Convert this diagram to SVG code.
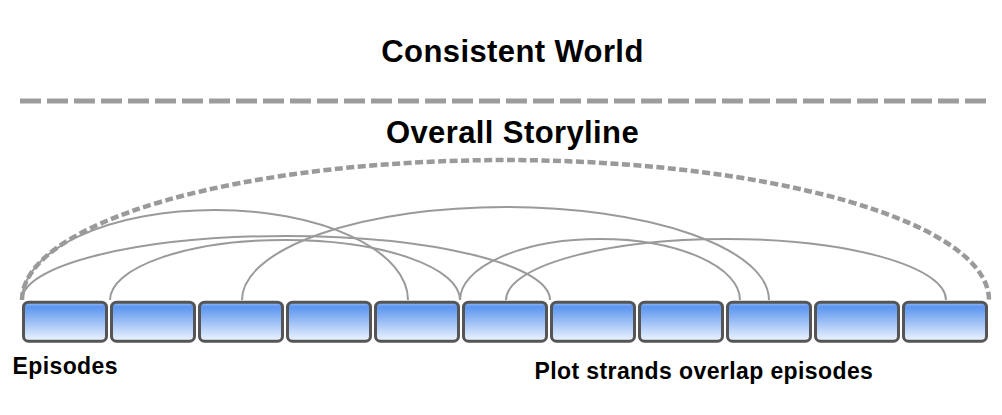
<svg xmlns="http://www.w3.org/2000/svg" width="1002" height="415" viewBox="0 0 1002 415">
  <style>
    .title { font-family: "Liberation Sans", Arial, sans-serif; font-weight: bold; font-size: 31px; letter-spacing: 0.4px; fill: #000; text-anchor: middle; }
    .label { font-family: "Liberation Sans", Arial, sans-serif; font-weight: bold; font-size: 23px; letter-spacing: 0.4px; fill: #000; }
    .ep { fill: url(#epGrad); stroke: #555555; stroke-width: 3; }
    .strand { fill: none; stroke: #9a9a9a; stroke-width: 2; }
    .arc { fill: none; stroke: #9a9a9a; stroke-width: 4.5; stroke-dasharray: 8 3.5; }
    .divider { fill: none; stroke: #9c9c9c; stroke-width: 5; stroke-dasharray: 21 6; }
  </style>
  <defs>
    <linearGradient id="epGrad" x1="0" y1="0" x2="0" y2="1">
      <stop offset="0" stop-color="#9dc0f8"/>
      <stop offset="0.12" stop-color="#5b95ef"/>
      <stop offset="0.5" stop-color="#9cbff5"/>
      <stop offset="1" stop-color="#f0f5ff"/>
    </linearGradient>
  </defs>

  <g id="world">
    <text class="title" x="512.5" y="62">Consistent World</text>
  </g>
  <g id="divider">
    <line class="divider" x1="20" y1="101" x2="986" y2="101"/>
  </g>
  <g id="storyline">
    <text class="title" x="512.5" y="143">Overall Storyline</text>
  </g>

  <g id="connectors">
    <path class="arc" d="M 22 300 A 483.5 140 0 0 1 989 300"/>
    <path class="strand" d="M 22 300 A 193 90 0 0 1 408 300"/>
    <path class="strand" d="M 22 300 A 264 64 0 0 1 550 300"/>
    <path class="strand" d="M 110 300 A 175 60 0 0 1 460 300"/>
    <path class="strand" d="M 242 300 A 263.5 93 0 0 1 769 300"/>
    <path class="strand" d="M 460 300 A 140 61 0 0 1 740 300"/>
    <path class="strand" d="M 506 300 A 220 61 0 0 1 946 300"/>
  </g>

  <g id="episodes">
    <g id="ep1"><rect class="ep" x="23.5" y="302.2" width="83" height="39" rx="5"/></g>
    <g id="ep2"><rect class="ep" x="111.5" y="302.2" width="83" height="39" rx="5"/></g>
    <g id="ep3"><rect class="ep" x="199.5" y="302.2" width="83" height="39" rx="5"/></g>
    <g id="ep4"><rect class="ep" x="287.5" y="302.2" width="83" height="39" rx="5"/></g>
    <g id="ep5"><rect class="ep" x="375.5" y="302.2" width="83" height="39" rx="5"/></g>
    <g id="ep6"><rect class="ep" x="463.5" y="302.2" width="83" height="39" rx="5"/></g>
    <g id="ep7"><rect class="ep" x="551.5" y="302.2" width="83" height="39" rx="5"/></g>
    <g id="ep8"><rect class="ep" x="639.5" y="302.2" width="83" height="39" rx="5"/></g>
    <g id="ep9"><rect class="ep" x="727.5" y="302.2" width="83" height="39" rx="5"/></g>
    <g id="ep10"><rect class="ep" x="815.5" y="302.2" width="83" height="39" rx="5"/></g>
    <g id="ep11"><rect class="ep" x="903.5" y="302.2" width="83" height="39" rx="5"/></g>
  </g>

  <g id="episodes-label">
    <text class="label" x="12.5" y="374">Episodes</text>
  </g>
  <g id="strands-label">
    <text class="label" x="534.5" y="379">Plot strands overlap episodes</text>
  </g>
</svg>
